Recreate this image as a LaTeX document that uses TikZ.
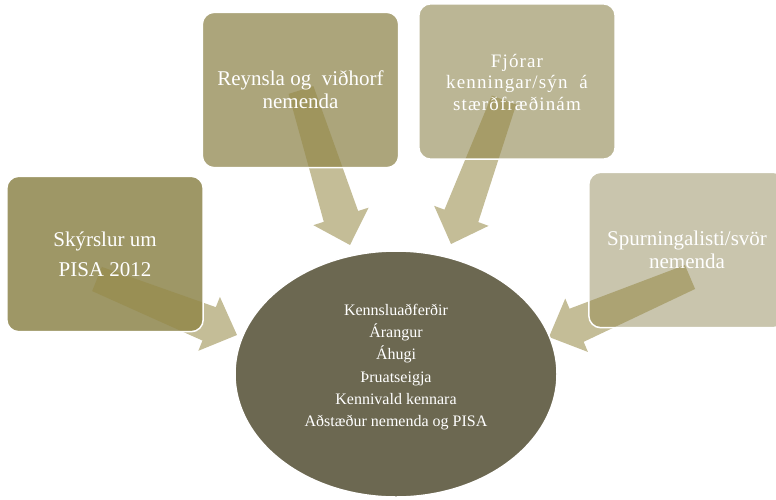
\documentclass[tikz,border=0pt]{standalone}
\usepackage{fontspec}
\setmainfont{Liberation Serif}
\usetikzlibrary{calc,shapes.geometric}

\definecolor{boxA}{RGB}{158,151,102}
\definecolor{boxB}{RGB}{172,165,123}
\definecolor{boxC}{RGB}{187,182,149}
\definecolor{boxD}{RGB}{201,197,173}
\definecolor{hubcol}{RGB}{108,104,81}
\definecolor{arrowcol}{RGB}{150,137,70}

% tapered block arrow from tail #1 to tip #2
\newcommand{\blockarrow}[2]{%
  \coordinate (#2n) at ($(#2)!30pt!(#1)$);
  \fill[inarrow] ($(#1)!13pt!90:(#2)$) -- ($(#2n)!18pt!90:(#2)$) -- ($(#2n)!29pt!90:(#2)$)
    -- (#2) -- ($(#2n)!29pt!-90:(#2)$) -- ($(#2n)!18pt!-90:(#2)$) -- ($(#1)!13pt!-90:(#2)$) -- cycle;
}

\begin{document}
\begin{tikzpicture}[x=1pt, y=-1pt,
    srcbox/.style={rounded corners=12pt, minimum width=196pt, minimum height=155pt, inner sep=0pt},
    outline/.style={draw=white, line width=1.5pt, rounded corners=12pt},
    boxtext/.style={text=white, align=center, font=\fontsize{21}{23}\selectfont},
    inarrow/.style={fill=arrowcol, fill opacity=0.56}]
    \useasboundingbox (0,0) rectangle (776,499);
    \clip (0,0) rectangle (776,499);
    % source boxes
    \node[srcbox, fill=boxA] (skyrslur) at (105,254) {};
    \node[srcbox, fill=boxB] (reynsla) at (300.5,90) {};
    \node[srcbox, fill=boxC] (fjorar) at (517,81.5) {};
    \node[srcbox, fill=boxD] (spurn) at (687,250) {};
    % arrows into the hub
    \coordinate (t1) at (97,279);  \coordinate (h1) at (237,335);
    \coordinate (t2) at (301,90);  \coordinate (h2) at (350,245);
    \coordinate (t3) at (504,100); \coordinate (h3) at (451,244);
    \coordinate (t4) at (690,277); \coordinate (h4) at (549,337);
    \foreach \i in {1,...,4} {\blockarrow{t\i}{h\i}}
    % white rims over the arrows
    \foreach \b in {skyrslur,reynsla,fjorar,spurn}
        \draw[outline] (\b.north west) rectangle (\b.south east);
    % box texts
    \node[boxtext, font=\fontsize{21}{30}\selectfont] (skyrslur-t) at (skyrslur) {Skýrslur um\\PISA 2012};
    \node[boxtext] (reynsla-t) at (reynsla) {Reynsla og~ viðhorf\\nemenda};
    \node[boxtext, font=\fontsize{19}{21.5}\selectfont\addfontfeatures{LetterSpace=6}] (fjorar-t) at (517,82) {Fjórar\\kenningar/sýn~ á\\stærðfræðinám};
    \node[boxtext] (spurn-t) at (spurn) {Spurningalisti/svör\\nemenda};
    % hub
    \node[ellipse, fill=hubcol, draw=white, line width=1.5pt, minimum width=322pt, minimum height=246pt] (hub) at (396,374) {};
    \node[text=white, align=center, font=\fontsize{16}{22.3}\selectfont] (hub-t) at (396,367)
        {Kennsluaðferðir\\Árangur\\Áhugi\\Þruatseigja\\Kennivald kennara\\Aðstæður nemenda og PISA};
\end{tikzpicture}
\end{document}
